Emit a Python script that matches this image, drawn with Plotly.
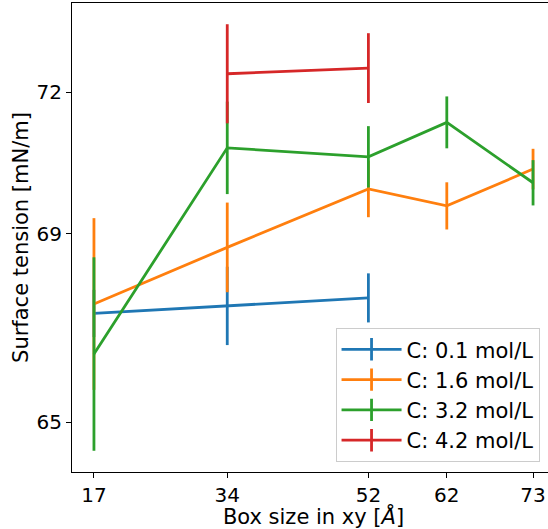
import plotly.graph_objects as go

box_sizes = [17, 34, 52, 62, 73]

labels = ["C: 0.1 mol/L", "C: 1.6 mol/L", "C: 3.2 mol/L", "C: 4.2 mol/L"]
colors = ["#1f77b4", "#ff7f0e", "#2ca02c", "#d62728"]

x_c01 = [17, 34, 52]
y_c01 = [67.31, 67.47, 67.64]
e_c01 = [0.5, 0.83, 0.52]

x_c16 = [17, 34, 52, 62, 73]
y_c16 = [67.51, 68.71, 69.95, 69.59, 70.37]
e_c16 = [1.82, 0.95, 0.6, 0.5, 0.43]

x_c32 = [17, 34, 52, 62, 73]
y_c32 = [66.45, 70.82, 70.63, 71.36, 70.08]
e_c32 = [2.05, 0.98, 0.65, 0.55, 0.48]

x_c42 = [34, 52]
y_c42 = [72.39, 72.51]
e_c42 = [1.05, 0.74]

y_ticks = [65, 69, 72]

series = [
    (x_c01, y_c01, e_c01),
    (x_c16, y_c16, e_c16),
    (x_c32, y_c32, e_c32),
    (x_c42, y_c42, e_c42),
]

LW = 2.8
fig = go.Figure()
for (xs, ys, es), lab, col in zip(series, labels, colors):
    fig.add_trace(go.Scatter(
        x=xs, y=ys, mode="lines", name=lab, showlegend=False,
        line=dict(color=col, width=LW),
        error_y=dict(type="data", array=es, visible=True, width=0,
                     thickness=LW, color=col),
    ))
# legend entries with "+" glyph
for lab, col in zip(labels, colors):
    fig.add_trace(go.Scatter(
        x=[None], y=[None], mode="lines+markers", name=lab,
        line=dict(color=col, width=LW),
        marker=dict(symbol="line-ns", size=20,
                    line=dict(color=col, width=LW)),
    ))

font = "DejaVu Sans"
fig.update_layout(
    width=560, height=529,
    margin=dict(l=72, r=5, t=3, b=57),
    paper_bgcolor="white", plot_bgcolor="white",
    font=dict(family=font, size=20, color="black"),
    showlegend=True,
    legend=dict(
        x=0.968, y=0.021, xanchor="right", yanchor="bottom",
        bgcolor="rgba(255,255,255,0.8)", bordercolor="#cccccc", borderwidth=1,
        font=dict(family=font, size=21),
        tracegroupgap=0, itemwidth=60,
    ),
    xaxis=dict(
        range=[14.2, 75.8], tickmode="array", tickvals=box_sizes,
        ticktext=[str(v) for v in box_sizes],
        showgrid=False, zeroline=False,
        showline=True, linecolor="black", linewidth=1, mirror=True,
        ticks="outside", ticklen=5, tickwidth=1, tickcolor="black",
        tickfont=dict(size=20),
        title=dict(text="Box size in xy [<i>Å</i>]", font=dict(size=21), standoff=4),
    ),
    yaxis=dict(
        range=[63.95, 73.89], tickmode="array", tickvals=y_ticks,
        ticktext=[str(v) for v in y_ticks],
        showgrid=False, zeroline=False,
        showline=True, linecolor="black", linewidth=1, mirror=True,
        ticks="outside", ticklen=5, tickwidth=1, tickcolor="black",
        tickfont=dict(size=20),
        title=dict(text="Surface tension [mN/m]", font=dict(size=21), standoff=2),
    ),
)

fig.write_html(
    "out.html",
    config={"displayModeBar": False},
    post_script="document.body.style.margin='0';document.body.style.overflow='hidden';",
)
